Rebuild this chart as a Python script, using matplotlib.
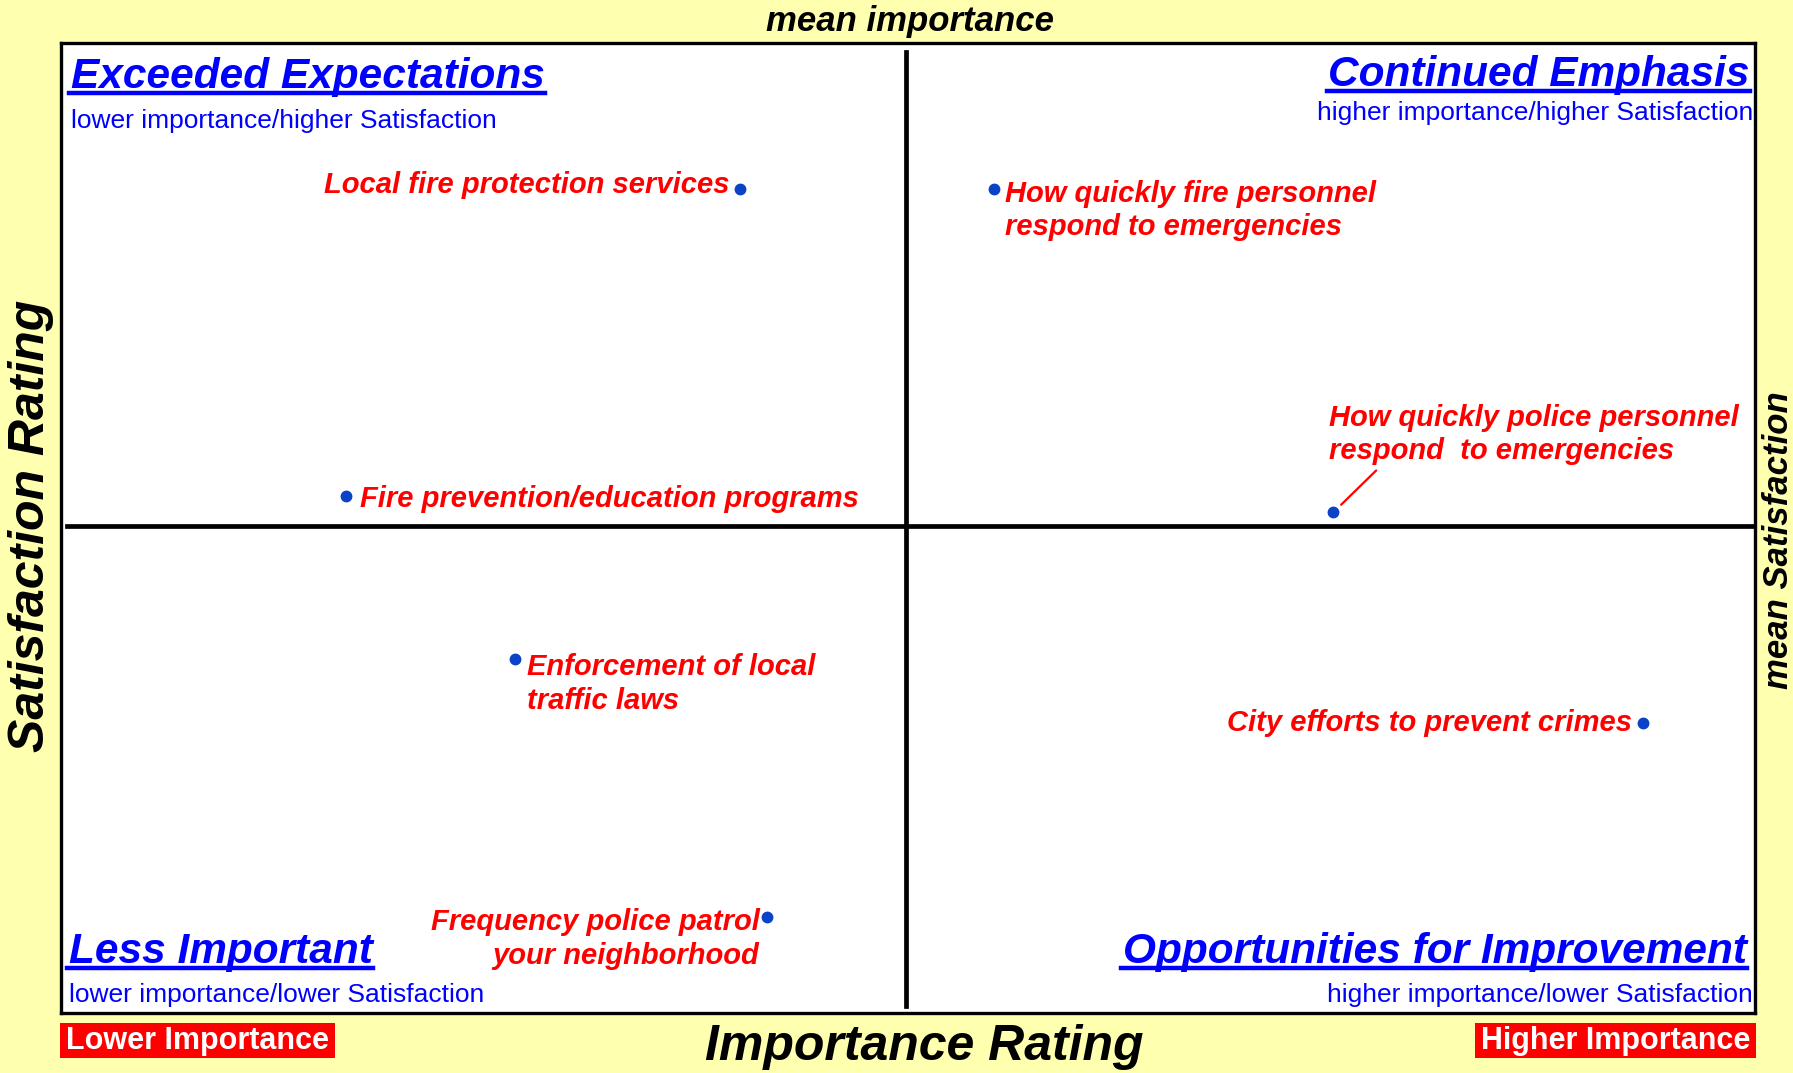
import matplotlib
matplotlib.use("Agg")
import matplotlib.pyplot as plt
from matplotlib.patches import Rectangle
from matplotlib.lines import Line2D

# ---------------- data ----------------
categories = [
    "Local fire protection services",
    "How quickly fire personnel\nrespond to emergencies",
    "How quickly police personnel\nrespond  to emergencies",
    "Fire prevention/education programs",
    "Enforcement of local\ntraffic laws",
    "City efforts to prevent crimes",
    "Frequency police patrol\nyour neighborhood",
]
importance = [40.1, 55.1, 75.1, 16.8, 26.8, 93.4, 41.7]
satisfaction = [84.9, 84.9, 51.6, 53.3, 36.5, 29.9, 9.9]
mean_importance = 49.9
mean_satisfaction = 50.2

quadrant_titles = ["Exceeded Expectations", "Continued Emphasis",
                   "Less Important", "Opportunities for Improvement"]
quadrant_subtitles = ["lower importance/higher Satisfaction",
                      "higher importance/higher Satisfaction",
                      "lower importance/lower Satisfaction",
                      "higher importance/lower Satisfaction"]

# ---------------- style / layout ----------------
W, H = 1793, 1073
BG = "#FFFFB0"
BLUE = "#0000FF"
RED = "#FF0000"
DOT = "#0A42C8"
FONT = "Liberation Sans"

def fx(x):
    return x / W

def fy(y):
    return 1 - y / H

# label offsets in pixels (dx, dy), alignment
label_style = [
    (-11, 4, "right"),
    (11, -21, "left"),
    (-4, 78, "left"),
    (14, -3, "left"),
    (12, -25, "left"),
    (-11, 0, "right"),
    (-8, -22, "right"),
]

fig = plt.figure(figsize=(W / 100, H / 100), dpi=100, facecolor=BG)
left, right, top, bottom = 61, 1755, 43, 1013
ax = fig.add_axes([fx(left), fy(bottom), (right - left) / W, (bottom - top) / H])
ax.set_facecolor("white")
ax.set_xlim(0, 100)
ax.set_ylim(0, 100)
ax.set_xticks([])
ax.set_yticks([])
for s in ax.spines.values():
    s.set_linewidth(2.4)
    s.set_color("black")

ax.axvline(mean_importance, ymin=0.007, ymax=0.991, color="black", lw=3.4)
ax.axhline(mean_satisfaction, xmin=0.0035, xmax=1.0, color="black", lw=3.4)

ax.plot(importance, satisfaction, "o", color=DOT, markersize=7.5, zorder=5)

for i, (cat, xv, yv) in enumerate(zip(categories, importance, satisfaction)):
    dx, dy, ha = label_style[i]
    ax.annotate(cat, (xv, yv), xytext=(dx, dy), textcoords="offset pixels",
                ha=ha, va="center", multialignment=ha, color=RED,
                fontsize=21, fontweight="bold", fontstyle="italic",
                family=FONT, linespacing=1.25)

# leader line for police personnel label
ax.annotate("", (importance[2], satisfaction[2]), xytext=(43, 42),
            textcoords="offset pixels",
            arrowprops=dict(arrowstyle="-", color=RED, lw=1.6,
                            shrinkA=0, shrinkB=8))

# quadrant titles (with underline)
title_pos = [(71, 88, "left"), (1750, 86, "right"),
             (69, 963, "left"), (1747, 963, "right")]
sub_pos = [(71, 128, "left"), (1753, 120, "right"),
           (69, 1002, "left"), (1753, 1002, "right")]
title_texts = []
for t, (x, y, ha) in zip(quadrant_titles, title_pos):
    tt = fig.text(fx(x), fy(y), t, ha=ha, va="baseline", color=BLUE,
                  fontsize=30.5, fontweight="bold", fontstyle="italic",
                  family=FONT)
    title_texts.append((tt, y))
for t, (x, y, ha) in zip(quadrant_subtitles, sub_pos):
    fig.text(fx(x), fy(y), t, ha=ha, va="baseline", color=BLUE,
             fontsize=19, family=FONT)

# axis titles
fig.text(fx(910), fy(21.5), "mean importance", ha="center", va="center",
         fontsize=25, fontweight="bold", fontstyle="italic", family=FONT)
fig.text(fx(924), fy(1047), "Importance Rating", ha="center", va="center",
         fontsize=36, fontweight="bold", fontstyle="italic", family=FONT)
fig.text(fx(31), fy(526), "Satisfaction Rating", ha="center", va="center",
         rotation=90, fontsize=36, fontweight="bold", fontstyle="italic",
         family=FONT)
fig.text(fx(1778), fy(540), "mean Satisfaction", ha="center", va="center",
         rotation=90, fontsize=25, fontweight="bold", fontstyle="italic",
         family=FONT)

# red corner boxes
for (x0, x1, label) in [(59.5, 335, "Lower Importance"),
                        (1475, 1756, "Higher Importance")]:
    fig.patches.append(Rectangle((fx(x0), fy(1058)), (x1 - x0) / W, 35 / H,
                                 transform=fig.transFigure, facecolor=RED,
                                 edgecolor="none"))
    fig.text(fx((x0 + x1) / 2), fy(1040.5), label, ha="center", va="center",
             color="white", fontsize=22, fontweight="bold", family=FONT)

# underlines
fig.canvas.draw()
r = fig.canvas.get_renderer()
for tt, y in title_texts:
    bb = tt.get_window_extent(r)
    yl = fy(y + 5)
    fig.lines.append(Line2D([bb.x0 / W - 2 / W, bb.x1 / W], [yl, yl],
                            transform=fig.transFigure, color=BLUE, lw=3.2))

fig.savefig("out.png", dpi=100, facecolor=BG)
